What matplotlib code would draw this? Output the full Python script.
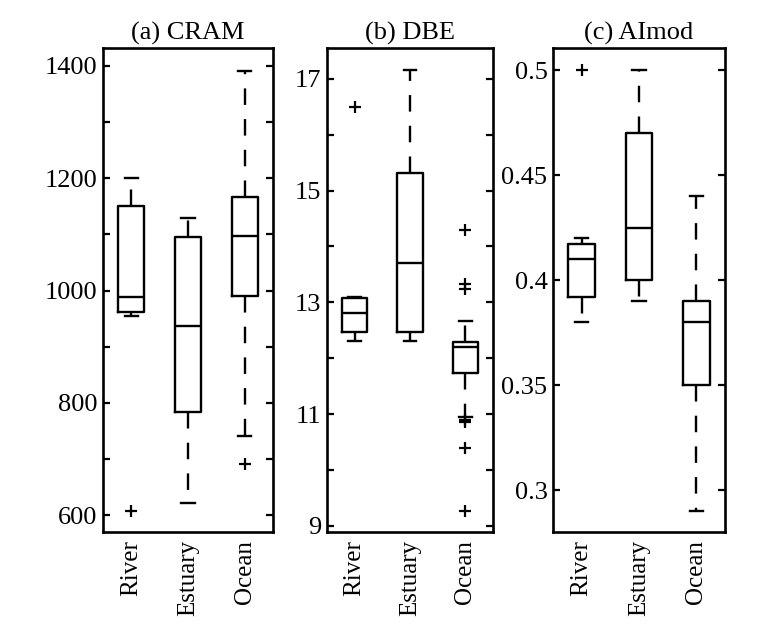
import numpy as np
import matplotlib.pyplot as plt
from matplotlib.ticker import MultipleLocator

plt.rcParams['font.family'] = ['Liberation Serif', 'DejaVu Serif']

groups = ['River', 'Estuary', 'Ocean']

# (a) CRAM
cram_q1 = [961, 784, 991]
cram_med = [989, 936, 1098]
cram_q3 = [1150, 1095, 1166]
cram_lo = [954, 621, 741]
cram_hi = [1200, 1130, 1391]
cram_out = [[607], [], [691]]

# (b) DBE
dbe_q1 = [12.46, 12.46, 11.73]
dbe_med = [12.8, 13.7, 12.2]
dbe_q3 = [13.07, 15.32, 12.29]
dbe_lo = [12.3, 12.3, 10.95]
dbe_hi = [13.1, 17.16, 12.66]
dbe_out = [[16.5], [], [14.3, 13.32, 13.23, 10.9, 10.86, 10.39, 9.27]]

# (c) AImod
ai_q1 = [0.392, 0.40, 0.35]
ai_med = [0.41, 0.425, 0.38]
ai_q3 = [0.417, 0.47, 0.39]
ai_lo = [0.38, 0.39, 0.29]
ai_hi = [0.42, 0.50, 0.44]
ai_out = [[0.50], [], []]

panels = [
    ('(a) CRAM', cram_q1, cram_med, cram_q3, cram_lo, cram_hi, cram_out,
     (570, 1432), [600, 800, 1000, 1200, 1400], 100),
    ('(b) DBE', dbe_q1, dbe_med, dbe_q3, dbe_lo, dbe_hi, dbe_out,
     (8.89, 17.55), [9, 11, 13, 15, 17], 1),
    ('(c) AImod', ai_q1, ai_med, ai_q3, ai_lo, ai_hi, ai_out,
     (0.28, 0.5105), [0.3, 0.35, 0.4, 0.45, 0.5], None),
]

fig = plt.figure(figsize=(7.71, 6.24), dpi=100)
lefts = [103, 327, 553]
rights = [273, 493, 725]
W, H = 771, 624
top, bottom = 48, 532

lw = 1.7
for i, (title, q1, med, q3, lo, hi, out, ylim, ticks, minor) in enumerate(panels):
    ax = fig.add_axes([lefts[i] / W, 1 - bottom / H,
                       (rights[i] - lefts[i]) / W, (bottom - top) / H])
    stats = []
    for j in range(3):
        stats.append(dict(q1=q1[j], med=med[j], q3=q3[j], whislo=lo[j],
                          whishi=hi[j], fliers=out[j]))
    ax.bxp(stats, positions=[1, 2, 3], widths=0.46, capwidths=0.23,
           boxprops=dict(color='black', linewidth=lw),
           medianprops=dict(color='black', linewidth=lw),
           whiskerprops=dict(color='black', linewidth=lw,
                             linestyle=(0, (7, 6))),
           capprops=dict(color='black', linewidth=lw),
           flierprops=dict(marker='+', markeredgecolor='black',
                           markersize=8, markeredgewidth=1.6))
    ax.set_xlim(0.5, 3.5)
    ax.set_ylim(*ylim)
    ax.set_yticks(ticks)
    ax.set_yticklabels([('%g' % t) for t in ticks])
    if minor:
        ax.yaxis.set_minor_locator(MultipleLocator(minor))
    ax.set_xticks([1, 2, 3])
    ax.set_xticklabels(groups, rotation=90)
    ax.tick_params(axis='y', which='both', direction='in', right=True,
                   length=5, width=1.6, labelsize=19, pad=4)
    ax.tick_params(axis='x', length=0, labelsize=18, pad=6)
    for s in ax.spines.values():
        s.set_linewidth(1.9)
    ax.set_title(title, fontsize=19, pad=6)

fig.savefig('out.png', dpi=100, facecolor='white')
